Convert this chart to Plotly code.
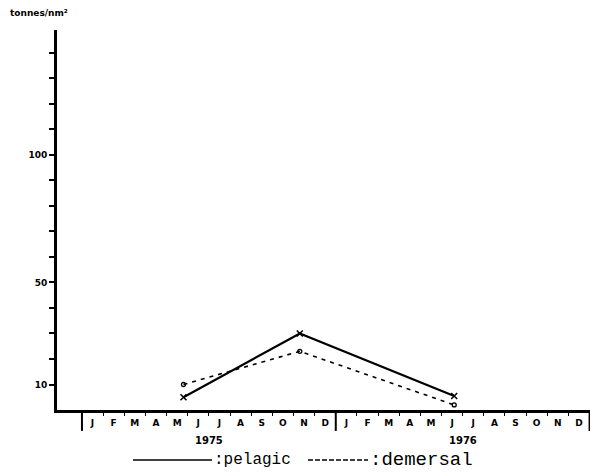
import plotly.graph_objects as go

# ---- data ----
months = ["J", "F", "M", "A", "M", "J", "J", "A", "S", "O", "N", "D"]
years = ["1975", "1976"]
# x position in months since start of Jan 1975
pelagic_x = [4.8, 10.3, 17.6]
pelagic_y = [5, 30, 5.5]
demersal_x = [4.8, 10.3, 17.6]
demersal_y = [10, 23, 2]
y_ticks = list(range(10, 150, 10))
y_labelled = [10, 50, 100]

# page body has an 8px margin, so the figure is drawn 8px smaller and offset
OFF = 8
W, H = 599 - OFF, 473 - OFF
L, R, T, B = 57 - OFF, 9, 30 - OFF, 63
FONT = "DejaVu Sans"
PW, PH = W - L - R, H - T - B


def px(xp):
    return (xp - OFF - L) / PW


def py(yp):
    return (H - B - (yp - OFF)) / PH


fig = go.Figure()
fig.add_trace(go.Scatter(
    x=pelagic_x, y=pelagic_y, mode="lines+markers", name=":pelagic",
    line=dict(color="black", width=2.2),
    marker=dict(symbol="x-thin-open", size=6, color="black", line=dict(width=1.5, color="black")),
    showlegend=False))
fig.add_trace(go.Scatter(
    x=demersal_x, y=demersal_y, mode="lines+markers", name=":demersal",
    line=dict(color="black", width=1.6, dash="4px,5px"),
    marker=dict(symbol="circle-open", size=4, color="black", line=dict(width=1.3, color="black")),
    showlegend=False))

n = len(months) * len(years)
centers = [i + 0.5 for i in range(n)]
labels = months * len(years)
boundaries = [i for i in range(1, n) if i % len(months) != 0]

fig.update_xaxes(
    range=[-1.18, n + 0.02], showgrid=False, zeroline=False,
    showline=True, linecolor="black", linewidth=3,
    tickmode="array", tickvals=centers, ticktext=labels, ticks="",
    tickfont=dict(family=FONT, size=9, color="black", weight="bold"),
    ticklabelstandoff=2, automargin=False,
    minor=dict(tickmode="array", tickvals=boundaries, ticks="outside",
               ticklen=3, tickwidth=1, tickcolor="black"),
)
fig.update_yaxes(
    range=[0, 149], showgrid=False, zeroline=False,
    showline=True, linecolor="black", linewidth=3,
    tickmode="array", tickvals=y_ticks,
    ticktext=[str(v) if v in y_labelled else "" for v in y_ticks],
    ticks="outside", ticklen=5, tickwidth=2, tickcolor="black",
    tickfont=dict(family=FONT, size=9, color="black", weight="bold"),
    automargin=False,
)

# year separators and labels
for k in range(len(years) + 1):
    fig.add_shape(type="line", xref="x", yref="paper",
                  x0=k * len(months), x1=k * len(months), y0=0, y1=-0.055,
                  line=dict(color="black", width=2))
for k, yr in enumerate(years):
    fig.add_annotation(x=k * len(months) + len(months) / 2, xref="x",
                       y=py(440), yref="paper", yanchor="middle",
                       text=yr, showarrow=False,
                       font=dict(family=FONT, size=10, color="black", weight="bold"))

# axis title
fig.add_annotation(x=px(8), xref="paper", y=py(13), yref="paper",
                   xanchor="left", yanchor="middle",
                   text="tonnes/nm²", showarrow=False,
                   font=dict(family=FONT, size=9, color="black", weight="bold"))

# typed legend
leg_y = py(460)
fig.add_shape(type="line", xref="paper", yref="paper",
              x0=px(133), x1=px(212), y0=leg_y, y1=leg_y,
              line=dict(color="black", width=1.5))
fig.add_annotation(x=px(212), xref="paper", y=leg_y, yref="paper",
                   xanchor="left", yanchor="middle", text=":pelagic",
                   showarrow=False,
                   font=dict(family="Liberation Mono", size=16, color="black"))
fig.add_shape(type="line", xref="paper", yref="paper",
              x0=px(308), x1=px(368), y0=leg_y, y1=leg_y,
              line=dict(color="black", width=1.5, dash="5px,2px"))
fig.add_annotation(x=px(368), xref="paper", y=leg_y, yref="paper",
                   xanchor="left", yanchor="middle", text=":demersal",
                   showarrow=False,
                   font=dict(family="Liberation Mono", size=19, color="black"))

fig.update_layout(
    width=W, height=H, margin=dict(l=L, r=R, t=T, b=B),
    paper_bgcolor="white", plot_bgcolor="white", showlegend=False,
)

fig.write_html("out.html")
